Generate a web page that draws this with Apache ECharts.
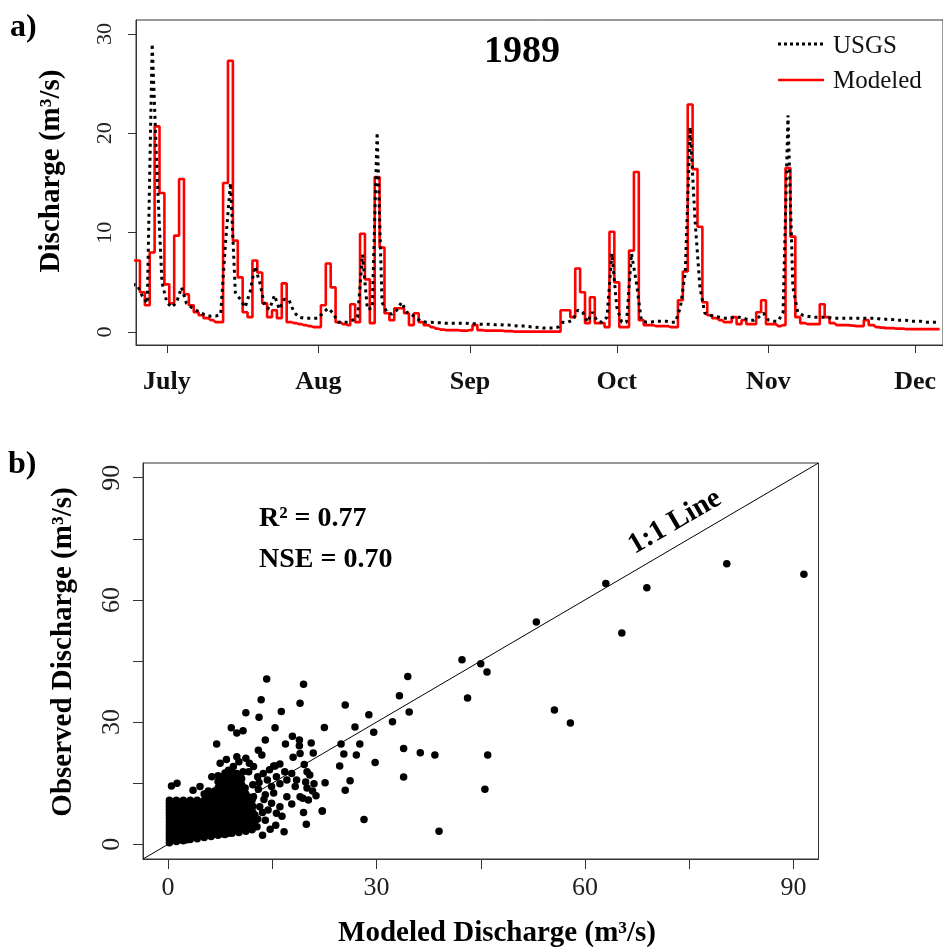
<!DOCTYPE html>
<html><head><meta charset="utf-8">
<script src="https://cdn.jsdelivr.net/npm/echarts@6/dist/echarts.min.js"></script>
<style>html,body{margin:0;padding:0;background:#fff}#c{width:943px;height:947px}</style>
</head><body><div id="c"></div>
<script>
// ---------- Panel a: daily discharge, day 0 = 1 July 1989 ----------
const firstDay = -7;
const monthTicks = [0, 31, 62, 92, 123, 153];
const monthNames = ['July', 'Aug', 'Sep', 'Oct', 'Nov', 'Dec'];
const qTicks = [0, 10, 20, 30];
const seriesNames = ['USGS', 'Modeled'];

const usgsQ = [
 4.8,4.7,3.6,2.9,29.0,16.0,5.0,            // -7..-1
 3.0,2.5,3.0,4.5,2.9,2.5,2.2,1.9,1.7,1.6,  // 0..9
 1.6,1.8,9.0,15.0,4.0,3.3,2.5,4.0,6.6,5.0, // 10..19
 2.6,2.3,3.7,2.3,3.3,3.2,2.0,1.5,1.4,1.4,  // 20..29
 1.4,1.4,2.0,2.4,1.9,1.0,1.0,1.0,1.2,1.5,  // 30..39
 7.8,2.3,2.4,20.1,3.0,2.0,1.8,2.2,3.0,2.0, // 40..49
 1.8,1.4,1.1,1.0,1.0,0.95,0.95,0.9,0.9,0.9,// 50..59
 0.9,0.9,0.85,0.85,0.8,0.8,0.8,0.75,0.75,0.7, // 60..69
 0.7,0.65,0.6,0.6,0.55,0.5,0.45,0.4,0.4,0.4,  // 70..79
 0.5,1.0,1.0,1.2,2.2,2.0,1.0,2.0,1.1,1.0,  // 80..89
 1.5,7.9,2.5,1.0,1.0,7.9,5.0,1.2,1.0,1.0,  // 90..99
 1.1,1.1,1.1,1.0,1.0,2.5,6.0,20.6,11.2,4.5,// 100..109
 1.9,1.7,1.6,1.5,1.4,1.4,1.5,1.5,1.4,1.2,  // 110..119
 1.2,1.5,1.9,1.2,1.1,1.1,2.0,21.8,4.5,2.0, // 120..129
 1.7,1.6,1.5,1.5,1.5,1.5,1.4,1.4,1.4,1.4,  // 130..139
 1.4,1.4,1.4,1.4,1.4,1.4,1.3,1.3,1.3,1.2,  // 140..149
 1.2,1.2,1.1,1.1,1.1,1.0,1.0,1.0,1.0       // 150..158
];

const modeledQ = [
 7.2,7.2,4.0,2.7,8.0,20.7,14.0,             // -7..-1
 4.8,2.9,9.7,15.4,3.8,2.7,2.0,1.7,1.4,1.2,  // 0..9
 1.0,1.0,15.0,27.3,9.2,5.5,2.0,1.5,7.2,6.0, // 10..19
 2.9,1.5,2.2,1.4,4.9,1.0,0.9,0.8,0.7,0.6,   // 20..29
 0.5,0.5,2.7,6.9,4.5,1.0,0.8,0.7,2.8,1.0,   // 30..39
 9.9,5.3,0.9,15.6,8.5,1.9,1.2,2.4,2.4,1.9,  // 40..49
 0.7,1.9,1.0,0.7,0.5,0.35,0.25,0.2,0.2,0.2, // 50..59
 0.15,0.15,0.2,0.7,0.2,0.15,0.15,0.15,0.15,0.1, // 60..69
 0.1,0.05,0.05,0.05,0.05,0.05,0.05,0.05,0.05,0.05, // 70..79
 0.05,2.2,2.2,1.5,6.4,4.0,0.9,3.5,0.9,0.9,  // 80..89
 0.5,10.1,5.0,0.5,0.5,8.2,16.1,1.2,0.7,0.7, // 90..99
 0.6,0.6,0.6,0.5,0.5,3.2,6.1,22.9,16.4,10.6,// 100..109
 3.0,1.7,1.4,1.2,1.0,1.0,1.5,0.8,1.2,0.8,   // 110..119
 0.8,2.0,3.2,0.8,0.8,0.6,0.7,16.5,9.6,1.5,  // 120..129
 0.9,0.8,0.8,0.8,2.8,1.5,0.9,0.7,0.7,0.7,   // 130..139
 0.65,0.6,0.6,1.2,0.7,0.5,0.45,0.4,0.4,0.35,// 140..149
 0.35,0.3,0.3,0.3,0.3,0.3,0.3,0.3,0.3       // 150..158
];

// ---------- Panel b: modeled (x) vs observed (y) ----------
const scatterTicks = [0, 15, 30, 45, 60, 75, 90];
const scatterLabels = [0, 30, 60, 90];

const outlierPts = [
 [91.5,66.3],[80.4,68.9],[68.9,63.0],[63.0,64.0],[65.3,51.9],[53.0,54.6],
 [42.3,45.3],[45.0,44.3],[45.9,42.3],[43.1,35.9],[55.6,33.0],[57.9,29.8],
 [46.0,21.9],[45.6,13.5],[39.0,3.2],[34.5,41.2],[33.3,36.5],[34.7,32.5],
 [32.3,30.1],[28.9,31.8],[25.5,34.2],[26.9,28.8],[29.6,27.5],[22.5,28.7],
 [24.9,24.6],[27.6,24.6],[27.1,21.9],[25.3,22.2],[29.8,20.1],[24.7,19.2],
 [33.9,23.5],[36.3,22.5],[38.4,21.9],[33.9,16.5],[28.2,6.1],[26.2,15.6],
 [25.5,13.3],[22.6,15.1],[22.2,8.2],[19.5,39.3],[19.0,34.6],[14.2,40.6],
 [13.4,35.5],[16.3,32.6],[13.1,31.2],[11.2,32.3],[9.1,28.6],[9.9,27.3],
 [10.8,27.9],[15.4,28.6],[7.0,24.6],[14.0,25.6],[16.9,24.6],[17.9,26.5],
 [18.9,25.6],[18.9,24.2],[20.6,24.9],[20.9,22.4]
];

const fringePts = [
 [9.9,21.5],[11.2,21.1],[13.0,23.1],[13.5,21.9],[15.2,19.2],[16.1,19.7],
 [18.0,21.4],[19.0,22.3],[20.0,17.8],[20.4,17.0],[21.0,14.9],[20.0,13.8],
 [6.3,16.6],[7.5,19.9],[7.5,16.6],[8.7,18.2],[9.4,19.1],[9.9,17.4],
 [10.4,16.6],[10.8,17.8],[11.6,17.8],[12.3,19.1],[12.9,16.6],[13.7,17.4],
 [14.3,15.8],[14.9,14.2],[15.4,19.2],[15.6,16.6],[16.1,14.9],[16.8,17.8],
 [17.1,15.8],[17.8,17.4],[18.3,14.2],[18.5,15.8],[19.0,11.7],[19.6,19.6],
 [19.8,15.3],[20.2,10.9],[20.8,13.1],[21.3,11.9],[10.4,13.3],[11.3,10.1],
 [11.8,7.2],[12.3,11.7],[12.8,4.3],[13.2,9.2],[13.6,2.2],[14.0,5.9],
 [14.7,3.7],[14.9,10.1],[15.5,4.7],[15.6,7.6],[16.1,9.2],[16.4,6.9],
 [16.7,3.1],[17.1,11.7],[17.8,9.9],[19.4,11.3],[19.5,7.8],[19.9,4.9],
 [22.2,8.2],[1.3,15.0],[0.5,14.3],[3.6,13.3],[4.6,14.2],[13.0,13.5],
 [14.0,12.2],[13.6,7.8],[15.2,12.6],[12.2,14.6],[13.1,15.2],[11.7,19.9],
 [10.2,20.3],[8.4,20.8],[14.6,18.3],[13.8,11.0],[14.4,8.4],[12.9,6.2]
];

// dense cloud of overlapping low-flow points (estimated from the solid black area)
const clusterPts = [
 [0.2,0.4],[1.2,0.7],[2.2,0.9],[3.2,1.2],[4.2,1.4],[5.2,1.7],[6.2,1.9],[7.2,2.2],[8.2,2.4],[9.2,2.7],[10.2,2.9],[11.2,3.2],[12.1,3.6],
 [0.2,1.1],[0.7,1.1],[1.7,1.1],[2.7,1.1],
 [0.2,1.85],[1.2,1.85],[2.2,1.85],[3.2,1.85],[4.2,1.85],[5.2,1.85],
 [0.2,2.6],[0.7,2.6],[1.7,2.6],[2.7,2.6],[3.7,2.6],[4.7,2.6],[5.7,2.6],[6.7,2.6],[7.7,2.6],[8.7,2.7],
 [0.2,3.35],[1.2,3.35],[2.2,3.35],[3.2,3.35],[4.2,3.35],[5.2,3.35],[6.2,3.35],[7.2,3.35],[8.2,3.35],[9.2,3.35],[10.2,3.35],[11.2,3.5],
 [0.2,4.1],[0.7,4.1],[1.7,4.1],[2.7,4.1],[3.7,4.1],[4.7,4.1],[5.7,4.1],[6.7,4.1],[7.7,4.1],[8.7,4.1],[9.7,4.1],[10.7,4.1],[11.7,4.2],
 [0.2,4.85],[1.2,4.85],[2.2,4.85],[3.2,4.85],[4.2,4.85],[5.2,4.85],[6.2,4.85],[7.2,4.85],[8.2,4.85],[9.2,4.85],[10.2,4.85],[11.2,4.85],[12.2,4.9],
 [0.2,5.6],[0.7,5.6],[1.7,5.6],[2.7,5.6],[3.7,5.6],[4.7,5.6],[5.7,5.6],[6.7,5.6],[7.7,5.6],[8.7,5.6],[9.7,5.6],[10.7,5.6],[11.7,5.6],[12.5,5.7],
 [0.2,6.35],[1.2,6.35],[2.2,6.35],[3.2,6.35],[4.2,6.35],[5.2,6.35],[6.2,6.35],[7.2,6.35],[8.2,6.35],[9.2,6.35],[10.2,6.35],[11.2,6.35],[12.2,6.35],
 [0.2,7.1],[0.7,7.1],[1.7,7.1],[2.7,7.1],[3.7,7.1],[4.7,7.1],[5.7,7.1],[6.7,7.1],[7.7,7.1],[8.7,7.1],[9.7,7.1],[10.7,7.1],[11.7,7.1],[12.5,7.2],
 [0.2,7.85],[1.2,7.85],[2.2,7.85],[3.2,7.85],[4.2,7.85],[5.2,7.85],[6.2,7.85],[7.2,7.85],[8.2,7.85],[9.2,7.85],[10.2,7.85],[11.2,7.85],[12.2,7.85],
 [0.2,8.6],[0.7,8.6],[1.7,8.6],[2.7,8.6],[3.7,8.6],[4.7,8.6],[5.7,8.6],[6.7,8.6],[7.7,8.6],[8.7,8.6],[9.7,8.6],[10.7,8.6],[11.7,8.6],
 [0.2,9.35],[1.2,9.35],[2.2,9.35],[3.2,9.35],[4.2,9.35],[5.2,9.35],[6.2,9.35],[7.2,9.35],[8.2,9.35],[9.2,9.35],[10.2,9.35],[11.2,9.35],[12.2,9.35],
 [0.2,10.1],[0.7,10.1],[1.7,10.1],[2.7,10.1],[3.7,10.1],[4.7,10.1],[5.7,10.1],[6.7,10.1],[7.7,10.1],[8.7,10.1],[9.7,10.1],[10.7,10.1],[11.7,10.1],
 [0.2,10.85],[1.2,10.85],[2.2,10.85],[3.2,10.85],[4.2,10.85],[5.2,10.85],[6.2,10.85],[7.2,10.85],[8.2,10.85],[9.2,10.85],[10.2,10.85],[11.2,10.85],[12.1,10.9],
 [5.7,11.6],[6.7,11.6],[7.7,11.6],[8.7,11.6],[9.7,11.6],[10.7,11.6],[11.6,11.6],
 [5.2,12.35],[6.2,12.35],[7.2,12.35],[8.2,12.35],[9.2,12.35],[10.2,12.35],[11.2,12.35],
 [5.8,13.1],[6.7,13.1],[7.7,13.1],[8.7,13.1],[9.7,13.1],[10.7,13.1],
 [7.2,13.85],[8.2,13.85],[9.2,13.85],[10.2,13.85],[11.1,13.85],
 [7.7,14.6],[8.7,14.6],[9.7,14.6],[10.6,14.6],
 [7.2,15.35],[8.2,15.35],[9.2,15.35],[10.2,15.35],
 [7.7,16.1],[8.7,16.1],[9.7,16.1],[10.6,16.1],
 [7.2,16.85],[8.2,16.85],[9.2,16.85],[10.1,16.85],
 [8.2,17.5],[9.2,17.5]
];

const SERIF = 'Liberation Serif';
const AX = '#333';

const usgsData = usgsQ.map((v, i) => [firstDay + i, v]);
const modeledData = modeledQ.map((v, i) => [firstDay + i, v]);
const scatterData = clusterPts.concat(fringePts, outlierPts);

const chart = echarts.init(document.getElementById('c'), null, {renderer: 'canvas'});
chart.setOption({
  animation: false,
  backgroundColor: '#fff',
  grid: [
    {left: 136, top: 20, right: -4, bottom: 602, show: true, borderColor: AX, borderWidth: 1, containLabel: false},
    {left: 143, top: 463, right: 124.5, bottom: 88, show: true, borderColor: AX, borderWidth: 1, containLabel: false}
  ],
  xAxis: [
    {type: 'value', gridIndex: 0, min: (136 - 167) / 4.915, max: (947 - 167) / 4.915,
     splitLine: {show: false},
     axisLine: {show: true, onZero: false, lineStyle: {color: AX, width: 1}},
     axisTick: {show: true, customValues: monthTicks, length: 8, lineStyle: {color: AX}},
     axisLabel: {show: true, customValues: monthTicks, margin: 24,
       formatter: v => monthNames[monthTicks.indexOf(v)] || '',
       fontFamily: SERIF, fontSize: 26, fontWeight: 'bold', color: '#111'}},
    {type: 'value', gridIndex: 1, min: -3.6, max: 93.6,
     splitLine: {show: false},
     axisLine: {show: true, onZero: false, lineStyle: {color: AX, width: 1}},
     axisTick: {show: true, customValues: scatterTicks, length: 10, lineStyle: {color: AX}},
     axisLabel: {show: true, customValues: scatterLabels, margin: 16,
       fontFamily: SERIF, fontSize: 26, color: '#222'}}
  ],
  yAxis: [
    {type: 'value', gridIndex: 0, min: -1.3, max: 31.4,
     splitLine: {show: false},
     axisLine: {show: true, onZero: false, lineStyle: {color: AX, width: 1}},
     axisTick: {show: true, customValues: qTicks, length: 8, lineStyle: {color: AX}},
     axisLabel: {show: true, customValues: qTicks, rotate: 90, margin: 20,
       fontFamily: SERIF, fontSize: 22, color: '#222'}},
    {type: 'value', gridIndex: 1, min: -3.6, max: 93.6,
     splitLine: {show: false},
     axisLine: {show: true, onZero: false, lineStyle: {color: AX, width: 1}},
     axisTick: {show: true, customValues: scatterTicks, length: 10, lineStyle: {color: AX}},
     axisLabel: {show: true, customValues: scatterLabels, rotate: 90, margin: 18,
       fontFamily: SERIF, fontSize: 26, color: '#222'}}
  ],
  series: [
    {name: seriesNames[1], type: 'line', xAxisIndex: 0, yAxisIndex: 0, data: modeledData,
     step: 'middle', symbol: 'none', showSymbol: false, z: 2,
     itemStyle: {color: '#ff0000'},
     lineStyle: {color: '#ff0000', width: 2.6}},
    {name: seriesNames[0], type: 'line', xAxisIndex: 0, yAxisIndex: 0, data: usgsData,
     symbol: 'none', showSymbol: false, z: 3,
     itemStyle: {color: '#000'},
     lineStyle: {color: '#000', width: 3, type: [3, 4], cap: 'butt'}},
    {name: 'oneToOne', type: 'line', xAxisIndex: 1, yAxisIndex: 1,
     data: [[-3.6, -3.6], [93.6, 93.6]], symbol: 'none', silent: true, z: 2,
     lineStyle: {color: '#000', width: 1}},
    {name: 'points', type: 'scatter', xAxisIndex: 1, yAxisIndex: 1,
     data: scatterData, symbol: 'circle', symbolSize: 7.5, z: 3,
     itemStyle: {color: '#000', opacity: 1}}
  ],
  graphic: [
    // legend (drawn manually so the keys are plain line samples)
    {type: 'line', shape: {x1: 778, y1: 44, x2: 824, y2: 44}, style: {stroke: '#000', lineWidth: 3, lineDash: [3, 3]}},
    {type: 'text', x: 833, y: 46, style: {text: seriesNames[0], font: '25px "Liberation Serif"', fill: '#111', textAlign: 'left', textVerticalAlign: 'middle'}},
    {type: 'line', shape: {x1: 778, y1: 80, x2: 824, y2: 80}, style: {stroke: '#ff0000', lineWidth: 2.5}},
    {type: 'text', x: 833, y: 81, style: {text: seriesNames[1], font: '25px "Liberation Serif"', fill: '#111', textAlign: 'left', textVerticalAlign: 'middle'}},
    {type: 'text', x: 10, y: 12, style: {text: 'a)', font: 'bold 32px "Liberation Serif"', fill: '#000'}},
    {type: 'text', x: 8, y: 449, style: {text: 'b)', font: 'bold 32px "Liberation Serif"', fill: '#000'}},
    {type: 'text', x: 522, y: 52, style: {text: '1989', font: 'bold 38px "Liberation Serif"', fill: '#000', textAlign: 'center', textVerticalAlign: 'middle'}},
    {type: 'text', x: 52, y: 171, rotation: Math.PI / 2, style: {text: 'Discharge (m³/s)', font: 'bold 29px "Liberation Serif"', fill: '#000', textAlign: 'center', textVerticalAlign: 'middle'}},
    {type: 'text', x: 64, y: 652, rotation: Math.PI / 2, style: {text: 'Observed Discharge (m³/s)', font: 'bold 29px "Liberation Serif"', fill: '#000', textAlign: 'center', textVerticalAlign: 'middle'}},
    {type: 'text', x: 497, y: 934, style: {text: 'Modeled Discharge (m³/s)', font: 'bold 29px "Liberation Serif"', fill: '#000', textAlign: 'center', textVerticalAlign: 'middle'}},
    {type: 'text', x: 259, y: 519, style: {text: 'R² = 0.77', font: 'bold 28px "Liberation Serif"', fill: '#000', textAlign: 'left', textVerticalAlign: 'middle'}},
    {type: 'text', x: 259, y: 560, style: {text: 'NSE = 0.70', font: 'bold 28px "Liberation Serif"', fill: '#000', textAlign: 'left', textVerticalAlign: 'middle'}},
    {type: 'text', x: 675, y: 522, rotation: Math.atan(396 / 677), style: {text: '1:1 Line', font: 'bold 29px "Liberation Serif"', fill: '#000', textAlign: 'center', textVerticalAlign: 'middle'}}
  ]
});
</script>
</body></html>
